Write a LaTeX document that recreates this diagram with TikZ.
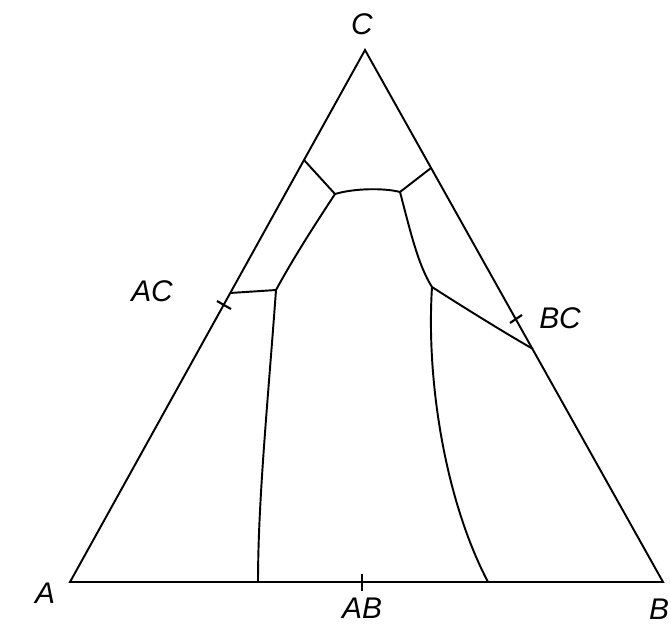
\documentclass[tikz,border=0pt]{standalone}
\usepackage{fontspec}
\setmainfont{Liberation Sans}
\usetikzlibrary{positioning,calc}

\begin{document}
\begin{tikzpicture}[x=0.02cm,y=-0.02cm,line width=1.1pt,
  lbl/.style={font=\fontsize{17}{20}\selectfont\itshape,inner sep=0pt},
  tick/.style={line width=1.2pt}]
  \useasboundingbox (0,0) rectangle (671,625);
  % corners of the triangle
  \coordinate (A) at (70,582);
  \coordinate (B) at (663,582);
  \coordinate (C) at (365,50);
  \draw (A) -- (B) -- (C) -- cycle;
  \node[lbl] (lC) at (362,24) {C};
  \node[lbl] (lA) at (45,593) {A};
  \node[lbl] (lB) at (659,609) {B};
  % ticks on the edges
  \coordinate (ac) at (224,305);
  \coordinate (bc) at (516,319);
  \coordinate (ab) at (362,582);
  \draw[tick] ($(ac)+(-7,-4)$) -- ($(ac)+(7,4)$);
  \draw[tick] ($(bc)+(-6,4)$) -- ($(bc)+(6,-4)$);
  \draw[tick] ($(ab)+(0,-8)$) -- ($(ab)+(0,9)$);
  \node[lbl] (lAC) at (152,291) {AC};
  \node[lbl] (lBC) at (560,318) {BC};
  \node[lbl] (lAB) at (362,608) {AB};
  % inner points
  \coordinate (p1) at (276,290);
  \coordinate (p2) at (335,194);
  \coordinate (p3) at (400,192);
  \coordinate (p4) at (432,287);
  % where the lines meet the edges
  \coordinate (e1) at (230,293);
  \coordinate (e2) at (304,160);
  \coordinate (e3) at (431,168);
  \coordinate (e4) at (533,349);
  \coordinate (f1) at (258,582);
  \coordinate (f2) at (488,582);
  \draw (e1) -- (p1);
  \draw (p1) .. controls (268,400) and (258,500) .. (f1);
  \draw (p1) .. controls (295,255) and (318,220) .. (p2);
  \draw (p2) -- (e2);
  \draw (p2) .. controls (355,188) and (385,188) .. (p3);
  \draw (p3) -- (e3);
  \draw (p3) .. controls (410,230) and (418,265) .. (p4);
  \draw (p4) .. controls (460,305) and (500,330) .. (e4);
  \draw (p4) .. controls (426,380) and (445,500) .. (f2);
\end{tikzpicture}
\end{document}
